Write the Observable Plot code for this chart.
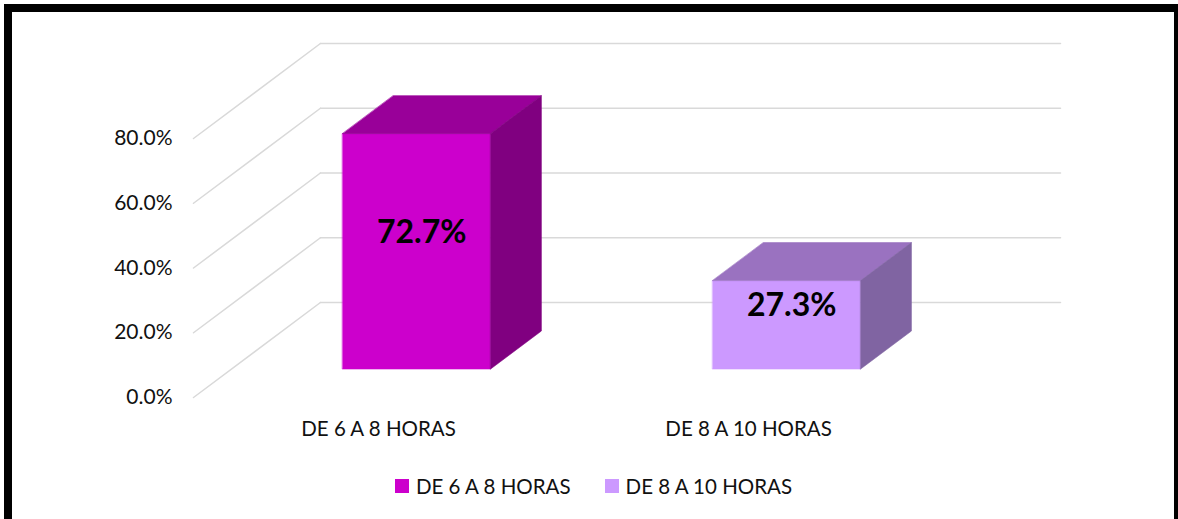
<!DOCTYPE html>
<html>
<head>
<meta charset="utf-8">
<script src="https://cdn.jsdelivr.net/npm/d3@7"></script>
<script src="https://cdn.jsdelivr.net/npm/@observablehq/plot@0.6"></script>
<style>
  html, body { margin: 0; padding: 0; background: #fff; overflow: hidden; }
  body { width: 1178px; height: 519px; position: relative; font-family: Lato, "Open Sans", sans-serif; }
  #chart { position: absolute; left: 0; top: 0; }
  #frame { position: absolute; left: 4px; top: 4px; width: 1178px; height: 540px; box-sizing: border-box;
           border: 8px solid #000; pointer-events: none; }
  #legend { position: absolute; left: 13px; width: 1161px; top: 475px; height: 22px;
            display: flex; justify-content: center; align-items: center; gap: 34px;
            font-size: 20.5px; color: #111; }
  .item { display: flex; align-items: center; gap: 7px; }
  .sw { width: 14px; height: 14px; display: inline-block; }
</style>
</head>
<body>
<div id="chart"></div>
<div id="legend"></div>
<div id="frame"></div>
<script>
// ---- data ----
const categories = ["DE 6 A 8 HORAS", "DE 8 A 10 HORAS"];
const values = [72.7, 27.3];
const yTicks = [0, 20, 40, 60, 80];

// ---- styles ----
const frontColors = ["#CC00CC", "#CC99FF"];
const topColors = ["#990099", "#9A72C0"];
const sideColors = ["#800080", "#8064A2"];
const gridColor = "#d9d9d9";

// ---- 3D layout (oblique projection in scale units) ----
const DX = 0.343;   // full depth offset, x units (category slots)
const DY = 29.34;   // full depth offset, y units (percent)
const F0 = 0.3, F1 = 0.7;   // bar front/back depth
const GAP = 0.3;            // bar inset in its slot
const yMax = 80;

const proj = (u, v, f) => ({x: u + f * DX, y: v + f * DY});

// gridlines: back wall + left wall diagonals
const gridRows = [];
yTicks.forEach((t, k) => {
  [proj(0, t, 1), proj(categories.length, t, 1)].forEach(p => gridRows.push({...p, id: "b" + k}));
  [proj(0, t, 0), proj(0, t, 1)].forEach(p => gridRows.push({...p, id: "d" + k}));
});

// bar faces
const faceMarks = [];
values.forEach((v, i) => {
  const u1 = i + GAP, u2 = i + 1 - GAP;
  const front = [proj(u1, 0, F0), proj(u2, 0, F0), proj(u2, v, F0), proj(u1, v, F0)];
  const top = [proj(u1, v, F0), proj(u2, v, F0), proj(u2, v, F1), proj(u1, v, F1)];
  const side = [proj(u2, 0, F0), proj(u2, 0, F1), proj(u2, v, F1), proj(u2, v, F0)];
  [[front, frontColors[i]], [top, topColors[i]], [side, sideColors[i]]].forEach(([pts, c]) => {
    faceMarks.push(Plot.line(pts, {x: "x", y: "y", curve: "linear-closed", fill: c, stroke: c, strokeWidth: 0.6}));
  });
});

const labelRows = values.map((v, i) => ({...proj(i + 0.5, v / 2, F0 + 0.04), text: v.toFixed(1) + "%"}));
const catRows = categories.map((c, i) => ({x: i + 0.5, y: 0, text: c}));

const chart = Plot.plot({
  width: 1178,
  height: 470,
  marginLeft: 193,
  marginRight: 118,
  marginTop: 43,
  marginBottom: 73,
  style: {fontFamily: "Lato, 'Open Sans', sans-serif", color: "#111", background: "transparent"},
  x: {domain: [0, categories.length + DX], axis: null},
  y: {domain: [0, yMax + DY], axis: null},
  marks: [
    Plot.line(gridRows, {x: "x", y: "y", z: "id", stroke: gridColor, strokeWidth: 1.5}),
    ...faceMarks,
    Plot.text(labelRows, {x: "x", y: "y", text: "text", dy: -15, fontSize: 32, fontWeight: "bold", fill: "#000"}),
    Plot.axisY({ticks: yTicks, label: null, tickSize: 0, tickPadding: 21, tickFormat: d => d.toFixed(1) + "%", fontSize: 21, fill: "#111"}),
    Plot.text(catRows, {x: "x", y: "y", text: "text", dy: 32, fontSize: 20.5, fill: "#111"})
  ]
});
document.getElementById("chart").appendChild(chart);

// legend
const legend = document.getElementById("legend");
categories.forEach((c, i) => {
  const item = document.createElement("div");
  item.className = "item";
  const sw = document.createElement("span");
  sw.className = "sw";
  sw.style.background = frontColors[i];
  const t = document.createElement("span");
  t.textContent = c;
  item.appendChild(sw);
  item.appendChild(t);
  legend.appendChild(item);
});
</script>
</body>
</html>
